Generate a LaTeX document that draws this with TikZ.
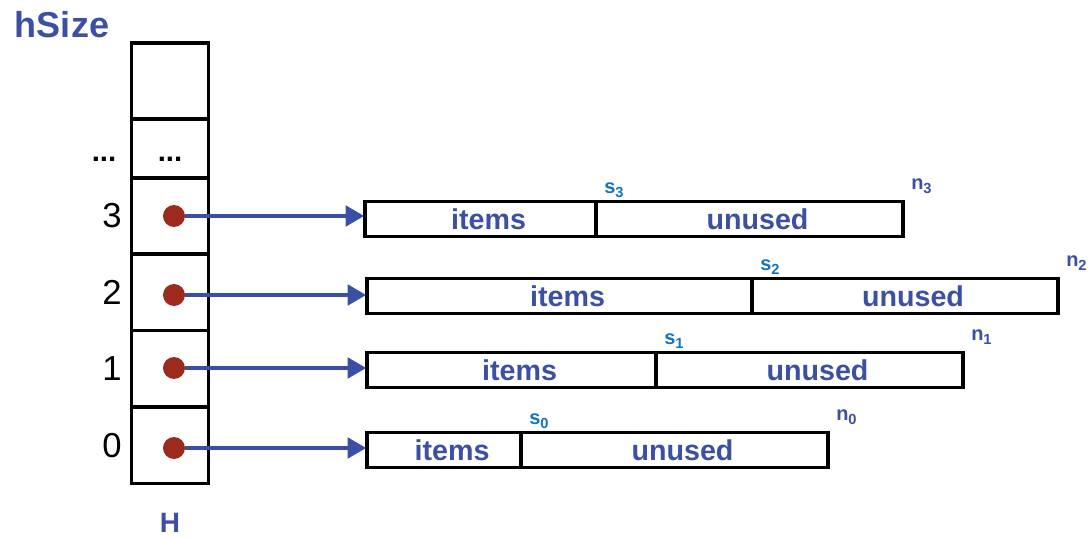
\documentclass[tikz,border=0pt]{standalone}
\usepackage{fontspec}
\setmainfont{Liberation Sans}
\usetikzlibrary{positioning,arrows.meta}
\definecolor{hblue}{HTML}{3B4FA3}
\definecolor{sblue}{HTML}{1274C4}
\definecolor{dotred}{HTML}{9C2A1E}
\definecolor{arrblue}{HTML}{3A50A6}
\newcommand{\lowsub}[1]{\raisebox{-0.35ex}{\fontsize{11}{11}\selectfont #1}}
\newcommand{\padl}{\hspace*{12pt}}
\tikzset{
  hcell/.style={draw, line width=2.3pt, minimum width=57.5pt, inner sep=0pt, outer sep=0pt},
  part/.style={draw, line width=2.3pt, minimum height=26pt, inner sep=0pt, outer sep=0pt,
    text=hblue, font=\fontsize{21.5}{21.5}\selectfont\bfseries},
  hdot/.style={circle, fill=dotred, minimum size=16.5pt, inner sep=0pt},
  ptr/.style={draw=arrblue, line width=3.6pt, -{Triangle[length=14pt,width=15pt]}, shorten >=0.5pt},
  idx/.style={font=\fontsize{26}{26}\selectfont},
  mark s/.style={text=sblue, font=\fontsize{15}{15}\selectfont\bfseries, anchor=south west, inner sep=0pt},
  mark n/.style={text=hblue, font=\fontsize{15}{15}\selectfont\bfseries, anchor=south west, inner sep=0pt},
  title/.style={text=hblue, font=\fontsize{27}{27}\selectfont\bfseries}
}
\begin{document}
\begin{tikzpicture}[x=0.75pt,y=-0.75pt]
  \useasboundingbox (0,0) rectangle (1092,538);
  % array H, top cell and dots cell
  \node[title] (hsize) at (62,25) {hSize};
  \node[hcell, minimum height=57pt] (c5) at (170,81) {};
  \node[hcell, minimum height=44.25pt] (c4) at (170,148.5) {};
  \node[font=\fontsize{22}{22}\selectfont\bfseries] (ci) at (170,159) {...};
  \node[font=\fontsize{22}{22}\selectfont\bfseries] (dd) at (104,159) {...};
  % indexed cells, dots, pointers and buckets
  \foreach \i/\cy/\ay/\by/\l/\m/\r in {3/216/216/219/365/596/903,2/292/295/296/367/752/1058,
      1/368.5/368/370/367/656/963,0/445.5/448/450/367/521/828}{
    \node[hcell, minimum height=57.5pt] (c\i) at (170,\cy) {};
    \node[idx] (k\i) at (112,\cy) {\i};
    \node[part, anchor=west, minimum width={(\m-\l)*0.75pt}] (it\i) at (\l,\by) {\padl items};
    \node[part, anchor=west, minimum width={(\r-\m)*0.75pt}] (un\i) at (it\i.east) {\padl unused};
    \node[hdot] (d\i) at (174,\ay) {};
    \draw[ptr] (d\i) -- (d\i.center -| it\i.west);
    \node[mark s] (s\i) at ([xshift=6pt,yshift=3pt]it\i.north east) {s\lowsub{\i}};
    \node[mark n] (n\i) at ([xshift=6pt,yshift=6pt]un\i.north east) {n\lowsub{\i}};
  }
  \node[title, font=\fontsize{21}{21}\selectfont\bfseries] (hname) at (170,523) {H};
\end{tikzpicture}
\end{document}
